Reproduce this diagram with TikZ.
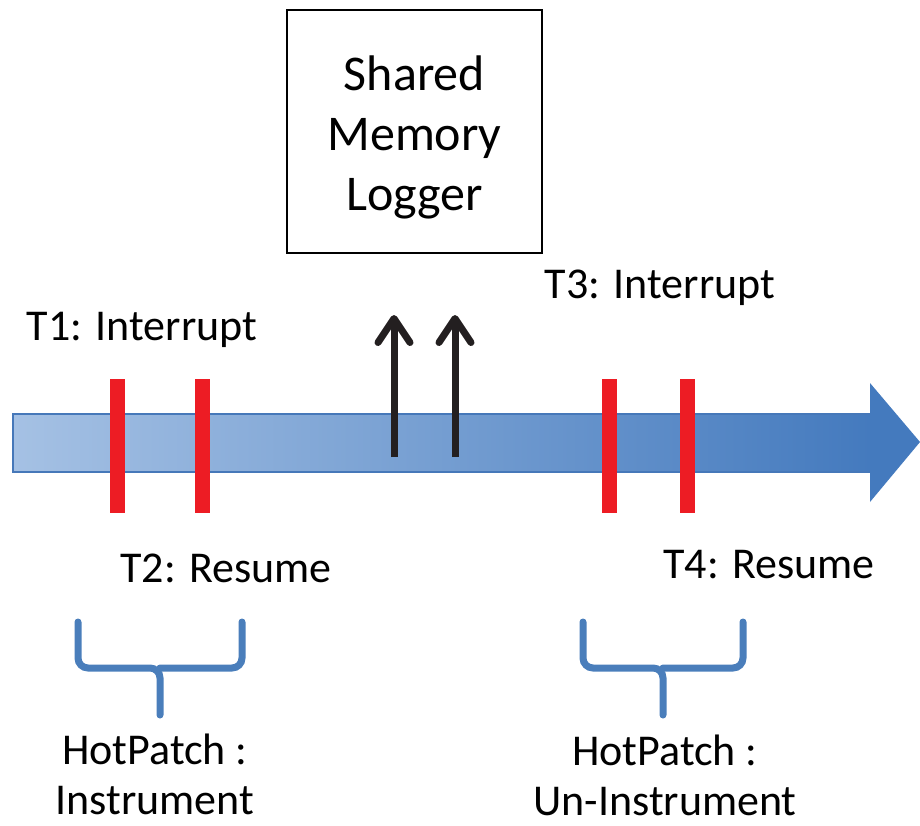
\documentclass[tikz,border=0pt]{standalone}
\usepackage{fontspec}
\setmainfont{Carlito}
\usetikzlibrary{arrows.meta, calc}
\definecolor{barlight}{RGB}{165,193,228}
\definecolor{bardark}{RGB}{68,122,190}
\definecolor{baredge}{RGB}{70,120,185}
\definecolor{markred}{RGB}{237,28,36}
\definecolor{bracecol}{RGB}{74,126,187}
\definecolor{upcol}{RGB}{35,31,32}
\tikzset{
    lbl/.style={font=\fontsize{22}{25}\selectfont, inner sep=0pt, align=center},
    logbox/.style={draw, line width=1pt, minimum width=127.5pt, minimum height=121.5pt,
        align=center, font=\fontsize{25}{30}\selectfont},
    redbar/.style={fill=markred},
    hpbrace/.style={draw=bracecol, line width=3.5pt, line cap=round, rounded corners=5pt},
    upline/.style={-{Straight Barb[length=12pt,width=16pt,round]}, line width=3.5pt, draw=upcol}
}

\begin{document}
\begin{tikzpicture}[x=0.5pt, y=-0.5pt]
    \useasboundingbox (0,0) rectangle (920,825);
    % time line
    \shade[left color=barlight, right color=bardark] (13,414) rectangle (871,472);
    \draw[baredge, line width=1.2pt] (871,414) -- (13,414) -- (13,472) -- (871,472);
    \fill[bardark] (870,383) -- (920,442) -- (870,502) -- cycle;
    % interrupt / resume marks
    \foreach \x in {117,202,609,687}
        \fill[redbar] (\x-7.5,379) rectangle (\x+7.5,513);
    % logger
    \node[logbox] (logger) at (414.5,131.5) {\rule{0pt}{23pt}Shared\\Memory\\Logger};
    \coordinate (w1) at (394,457); \coordinate (w2) at (455,457);
    \draw[upline] (w1) -- (w1 |- 0,315);
    \draw[upline] (w2) -- (w2 |- 0,315);
    % labels
    \node[lbl] (t1) at (142,330) {T1: Interrupt};
    \node[lbl] (t2) at (226,568) {T2: Resume};
    \node[lbl] (t3) at (660,288) {T3: Interrupt};
    \node[lbl] (t4) at (769,565) {T4: Resume};
    % hotpatch braces
    \draw[hpbrace] (78,622) -- (78,668) -- (160,668) -- (160,715);
    \draw[hpbrace] (242,622) -- (242,668) -- (160,668);
    \draw[hpbrace] (583,622) -- (583,668) -- (663,668) -- (663,715);
    \draw[hpbrace] (743,622) -- (743,668) -- (663,668);
    \node[lbl] (hp1) at (155,774) {HotPatch :\\Instrument};
    \node[lbl] (hp2) at (665,775) {HotPatch :\\Un-Instrument};
\end{tikzpicture}
\end{document}
